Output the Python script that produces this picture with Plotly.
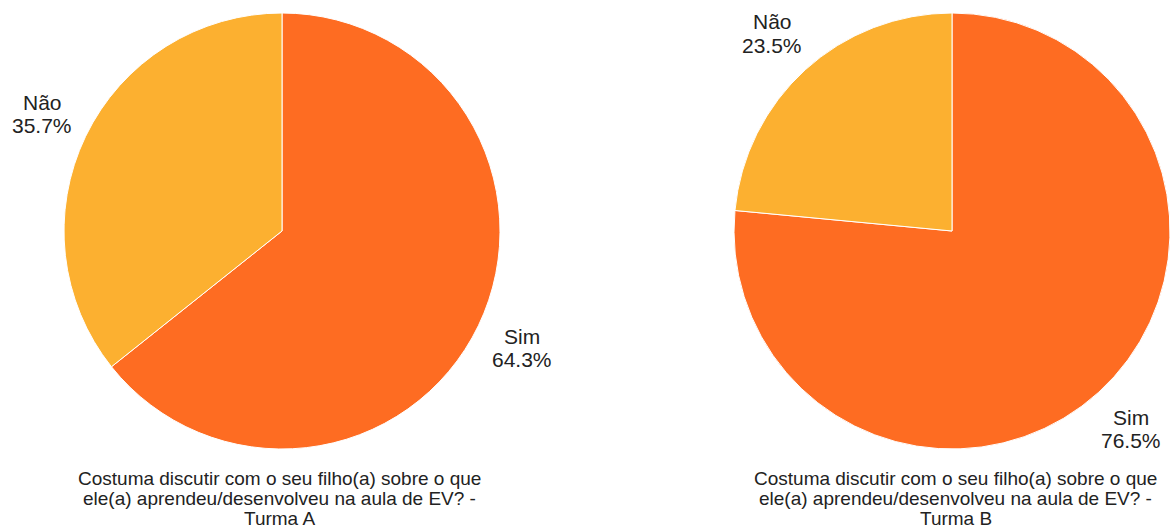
import plotly.graph_objects as go

# Survey answers per class (percent)
labels = ["Sim", "Não"]
turma_a = [64.3, 35.7]
turma_b = [76.5, 23.5]
title_lines = [
    "Costuma discutir com o seu filho(a) sobre o que",
    "ele(a) aprendeu/desenvolveu na aula de EV? -",
]
turmas = ["Turma A", "Turma B"]

colors = ["#FE6C22", "#FCB030"]
W, H = 1171, 531
FONT = "Liberation Sans, Arial, sans-serif"
TEXT = "#222222"

def px(x):
    return x / W

def py(y):
    return 1 - y / H

def text_line(x, y, s, size):
    fig.add_annotation(
        x=px(x), y=py(y), xref="paper", yref="paper", showarrow=False,
        xanchor="center", yanchor="middle", text=s,
        font=dict(family=FONT, size=size, color=TEXT),
    )

fig = go.Figure()
domains = [
    dict(x=[px(64), px(500)], y=[py(449), py(13)]),
    dict(x=[px(734), px(1170)], y=[py(449), py(13)]),
]
for vals, dom in zip([turma_a, turma_b], domains):
    fig.add_trace(go.Pie(
        labels=labels, values=vals, sort=False, direction="clockwise",
        rotation=0, domain=dom, textinfo="none", hoverinfo="label+percent",
        marker=dict(colors=colors, line=dict(color="white", width=1)),
        showlegend=False,
    ))

# Slice labels placed beside each pie (name above, percentage below)
label_pos = [
    (42, 102, "Não", turma_a[1]),
    (522, 336, "Sim", turma_a[0]),
    (772, 22, "Não", turma_b[1]),
    (1131, 417, "Sim", turma_b[0]),
]
for x, y, name, v in label_pos:
    text_line(x, y, name, 21)
    text_line(x, y + 23, f"{v:.1f}%", 21)

# Pie titles under each chart
for cx, turma in zip([279, 956], turmas):
    for i, s in enumerate(title_lines + [turma]):
        text_line(cx, 478 + 20 * i, s, 19)

fig.update_layout(
    width=W, height=H, margin=dict(l=0, r=0, t=0, b=0),
    paper_bgcolor="white", plot_bgcolor="white",
)
fig.write_html("out.html")
